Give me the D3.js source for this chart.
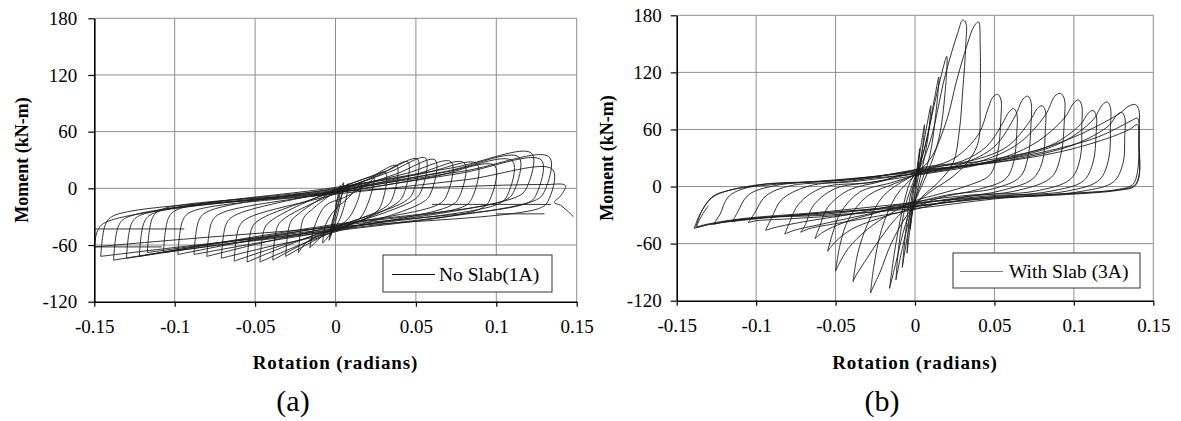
<!DOCTYPE html>
<html><head><meta charset="utf-8">
<script src="https://cdn.jsdelivr.net/npm/d3@7"></script>
<style>body{margin:0;background:#fff} svg{display:block}</style>
</head><body>
<svg id="chart" width="1181" height="421"></svg>
<script>
const rotationTicks = [-0.15, -0.1, -0.05, 0, 0.05, 0.1, 0.15];
const rotationTickLabels = ["-0.15", "-0.1", "-0.05", "0", "0.05", "0.1", "0.15"];
const momentTicks = [-120, -60, 0, 60, 120, 180];
const momentTickLabels = ["-120", "-60", "0", "60", "120", "180"];
const xTitle = "Rotation (radians)";
const yTitle = "Moment (kN-m)";
const seriesNames = ["No Slab(1A)", "With Slab (3A)"];
const captions = ["(a)", "(b)"];

// Specimen 1A (no slab): hysteresis cycles, [rotation (rad), moment (kN-m)]
const loopsNoSlab = [
  [[0,-20],[0.003,3],[0.002,-15],[-0.001,-35],[-0.003,-50]],
  [[-0.001,-30],[0.002,-8],[0.005,6],[0.003,-15],[0,-35],[-0.004,-55]],
  [[-0.002,-35],[0.002,-15],[0.006,0],[0.008,5],[0.006,-15],[0.002,-35],[-0.004,-50],[-0.008,-58]],
  [[-0.006,-38],[0,-22],[0.008,-10],[0.013,0],[0.016,6],[0.014,-12],[0.008,-32],[0,-42],[-0.008,-50],[-0.013,-58],[-0.016,-63]],
  [[-0.013,-40],[-0.006,-18],[0.005,-10],[0.015,-1],[0.021,6],[0.024,11],[0.021,-12],[0.015,-32],[0.005,-41],[-0.008,-48],[-0.018,-57],[-0.023,-68]],
  [[-0.02,-32],[-0.015,-23],[0,-4],[0.0186,8.2],[0.031,17],[0.028,-19],[0.023,-28],[0,-44],[-0.0186,-60.2],[-0.031,-72]],
  [[-0.028,-36],[-0.023,-27],[0,-2],[0.0228,13.1],[0.038,24],[0.035,-12],[0.03,-21],[0,-42],[-0.0234,-61.7],[-0.039,-76]],
  [[-0.036,-40],[-0.031,-31],[0,-5],[0.027,14.1],[0.045,28],[0.042,-8],[0.037,-17],[0,-45],[-0.0282,-64.1],[-0.047,-78]],
  [[-0.044,-42],[-0.039,-33],[0,-1],[0.0306,17.6],[0.051,31],[0.048,-5],[0.043,-14],[0,-41],[-0.033,-62.5],[-0.055,-78]],
  [[-0.052,-42],[-0.047,-33],[0,-3],[0.0336,17.3],[0.056,32],[0.053,-4],[0.048,-13],[0,-43],[-0.0378,-62.7],[-0.063,-77]],
  [[-0.06,-41],[-0.055,-32],[0,-6],[0.0372,14.9],[0.062,30],[0.059,-6],[0.054,-15],[0,-46],[-0.0426,-62.2],[-0.071,-74]],
  [[-0.068,-38],[-0.063,-29],[0,-2],[0.0432,15.4],[0.072,28],[0.069,-8],[0.064,-17],[0,-40],[-0.048,-58.6],[-0.08,-72]],
  [[-0.077,-36],[-0.072,-27],[0,-4],[0.048,14],[0.08,27],[0.077,-9],[0.072,-18],[0,-44],[-0.0528,-59.1],[-0.088,-70]],
  [[-0.085,-34],[-0.08,-25],[0,0],[0.0528,15.1],[0.088,26],[0.085,-10],[0.08,-19],[0,-39],[-0.0588,-57],[-0.098,-70]],
  [[-0.095,-34],[-0.09,-25],[0,-5],[0.0594,11.8],[0.099,24],[0.096,-12],[0.091,-21],[0,-45],[-0.0642,-58.3],[-0.107,-68]],
  [[-0.104,-32],[-0.099,-23],[0,-1],[0.066,16.4],[0.11,29],[0.107,-7],[0.102,-16],[0,-42],[-0.0702,-57.1],[-0.117,-68]],
  [[-0.114,-32],[-0.109,-23],[0,-3],[0.0684,17.9],[0.114,33],[0.111,-3],[0.106,-12],[0,-38],[-0.0732,-57.7],[-0.122,-72]],
  [[-0.119,-36],[-0.114,-27],[0,1],[0.0732,21.9],[0.122,37],[0.119,1],[0.114,-8],[0,-43],[-0.078,-61],[-0.13,-74]],
  [[-0.127,-38],[-0.122,-29],[0,-4],[0.0768,15.7],[0.128,30],[0.125,-6],[0.12,-15],[0,-40],[-0.0828,-60.9],[-0.138,-76]],
  [[-0.135,-40],[-0.13,-31],[0,-2],[0.0798,18.3],[0.133,33],[0.13,-3],[0.125,-12],[0,-44],[-0.0876,-60.2],[-0.146,-72]],
  [[-0.143,-38],[-0.138,-29],[0,-6],[0.081,9.1],[0.135,20],[0.132,-14],[0.127,-21],[0,-41],[-0.09,-53.2],[-0.15,-62]],
  [[-0.148,-45],[-0.143,-36],[0,-4],[0.08,2],[0.13,4],[0.143,3],[0.14,-8],[0.136,-15],[0.14,-18],[0.148,-30]]
];
// straight jump segments visible in the 1A record
const jumpsNoSlab = [
  [[-0.094,-43],[-0.15,-43]],
  [[-0.108,-62],[-0.15,-62]],
  [[0.06,-17],[0.134,-17]],
  [[0.1,-27],[0.13,-27]]
];

// Specimen 3A (with slab)
const loopsWithSlab = [
  [[0,0],[0.003,40],[0.002,20],[0,-5],[-0.003,-45]],
  [[-0.002,-20],[0,5],[0.003,35],[0.006,65],[0.004,30],[0.001,0],[-0.002,-30],[-0.005,-70]],
  [[-0.004,-40],[-0.001,0],[0.003,25],[0.007,60],[0.01,85],[0.008,50],[0.004,15],[0,-15],[-0.004,-45],[-0.008,-85]],
  [[-0.006,-50],[-0.003,-10],[0.002,15],[0.008,55],[0.012,90],[0.015,115],[0.013,75],[0.009,30],[0.003,0],[-0.003,-30],[-0.008,-65],[-0.012,-98]],
  [[-0.01,-60],[-0.006,-20],[0,10],[0.006,40],[0.012,85],[0.017,120],[0.02,137],[0.019,100],[0.015,50],[0.008,15],[0,-15],[-0.006,-40],[-0.012,-80],[-0.016,-107]],
  [[-0.013,-70],[-0.008,-25],[-0.003,5],[0.003,20],[0.01,50],[0.018,110],[0.022,135],[0.027,162],[0.03,175],[0.032,172],[0.032,150],[0.03,100],[0.028,60],[0.024,25],[0.015,5],[0.005,-10],[-0.005,-30],[-0.015,-60],[-0.022,-90],[-0.027,-108],[-0.028,-112]],
  [[-0.026,-85],[-0.021,-45],[-0.012,-10],[0,12],[0.01,30],[0.02,70],[0.026,110],[0.033,150],[0.037,168],[0.04,173],[0.041,150],[0.041,90],[0.04,48],[0.035,30],[0.025,12],[0.01,-5],[0,-18],[-0.01,-30],[-0.022,-55],[-0.032,-80],[-0.038,-96],[-0.039,-100]],
  [[-0.036,-70],[-0.03,-40],[-0.02,-10],[-0.005,8],[0.01,20],[0.025,30],[0.04,55],[0.046,82],[0.049,94],[0.052,97],[0.054,92],[0.054,70],[0.052,35],[0.047,12],[0.035,2],[0.015,-8],[0,-15],[-0.015,-28],[-0.03,-45],[-0.042,-65],[-0.048,-82],[-0.05,-89]],
  [[-0.047,-60],[-0.042,-35],[-0.03,-10],[-0.01,5],[0.008,18],[0.03,27],[0.045,42],[0.055,66],[0.059,78],[0.062,82],[0.064,77],[0.064,55],[0.062,25],[0.057,8],[0.04,-3],[0.015,-12],[0,-22],[-0.02,-32],[-0.04,-45],[-0.05,-58],[-0.055,-68]],
  [[-0.052,-50],[-0.047,-28],[-0.035,-6],[-0.015,4],[0.005,14],[0.03,24],[0.05,42],[0.063,74],[0.068,92],[0.071,95],[0.073,89],[0.073,65],[0.071,30],[0.066,10],[0.05,-2],[0.02,-9],[0,-17],[-0.025,-28],[-0.045,-38],[-0.058,-48],[-0.063,-55]],
  [[-0.06,-42],[-0.055,-22],[-0.042,-4],[-0.02,6],[0.005,20],[0.035,27],[0.058,42],[0.072,68],[0.077,82],[0.08,85],[0.082,80],[0.082,58],[0.08,25],[0.074,8],[0.055,-4],[0.025,-13],[0,-24],[-0.03,-33],[-0.05,-39],[-0.066,-44],[-0.072,-48]],
  [[-0.069,-40],[-0.064,-20],[-0.05,-2],[-0.025,5],[0.005,16],[0.04,26],[0.065,45],[0.082,75],[0.088,95],[0.0915,98],[0.094,92],[0.094,70],[0.092,35],[0.086,10],[0.065,-4],[0.03,-11],[0,-19],[-0.035,-31],[-0.06,-40],[-0.076,-46],[-0.082,-50]],
  [[-0.079,-38],[-0.073,-18],[-0.058,-1],[-0.03,4],[0.005,13],[0.045,25],[0.075,45],[0.094,72],[0.1,88],[0.103,91],[0.105,85],[0.105,65],[0.104,30],[0.098,8],[0.075,-5],[0.035,-9],[0,-16],[-0.04,-29],[-0.07,-37],[-0.088,-43],[-0.094,-46]],
  [[-0.09,-32],[-0.084,-14],[-0.068,0],[-0.035,7],[0.005,19],[0.05,29],[0.085,43],[0.104,65],[0.109,77],[0.112,80],[0.114,75],[0.114,55],[0.112,25],[0.106,6],[0.085,-5],[0.04,-12],[0,-21],[-0.045,-30],[-0.08,-34],[-0.1,-36],[-0.105,-38]],
  [[-0.101,-28],[-0.094,-10],[-0.078,1],[-0.04,5],[0.005,15],[0.055,28],[0.092,46],[0.112,70],[0.118,86],[0.121,89],[0.123,83],[0.123,62],[0.122,30],[0.116,7],[0.095,-5],[0.045,-10],[0,-18],[-0.05,-28],[-0.09,-32],[-0.11,-35],[-0.115,-37]],
  [[-0.112,-28],[-0.105,-9],[-0.088,1],[-0.045,7],[0.005,17],[0.06,28],[0.1,44],[0.122,64],[0.127,75],[0.13,78],[0.132,73],[0.132,52],[0.131,25],[0.125,5],[0.105,-5],[0.05,-13],[0,-23],[-0.055,-30],[-0.1,-33],[-0.12,-37],[-0.127,-40]],
  [[-0.123,-30],[-0.117,-10],[-0.1,1],[-0.05,6],[0.005,14],[0.03,21],[0.07,35],[0.1,52],[0.128,76],[0.135,85],[0.139,86],[0.141,80],[0.141,60],[0.14,15],[0.137,2],[0.128,-3],[0.1,-7],[0.05,-12],[0,-20],[-0.06,-28],[-0.1,-34],[-0.13,-40],[-0.139,-44]],
  [[-0.135,-28],[-0.128,-12],[-0.117,-4],[-0.09,2],[-0.05,7],[0,15],[0.04,24],[0.08,36],[0.115,52],[0.136,69],[0.14,72],[0.141,66],[0.141,50],[0.141,12],[0.138,1],[0.125,-4],[0.09,-8],[0.04,-12],[0,-17],[-0.06,-27],[-0.11,-34],[-0.132,-40],[-0.138,-43]],
  [[-0.134,-25],[-0.127,-10],[-0.117,-4],[-0.098,2],[-0.063,5],[-0.027,10],[0,17],[0.045,24],[0.09,36],[0.12,50],[0.135,60],[0.14,65],[0.141,40],[0.141,10],[0.138,0],[0.128,-4],[0.09,-9],[0.04,-13],[0,-21],[-0.06,-28],[-0.11,-35],[-0.13,-40],[-0.137,-42],[-0.134,-30],[-0.13,-20]]
];
const jumpsWithSlab = [];

const FONT = "'Liberation Serif','Times New Roman',Times,serif";
const svg = d3.select("#chart");

const panels = [
  { x0: 94.3, x1: 576.7, y0: 18.3, y1: 301.7, loops: loopsNoSlab, jumps: jumpsNoSlab,
    name: seriesNames[0], caption: captions[0], yPad: 11, yTitleX: 22, capX: 293,
    leg: { x: 383, y: 255, w: 169, h: 37, l1: 392, l2: 435, tx: 439 }, legStroke: "#111", legW: 1 },
  { x0: 676.7, x1: 1153.3, y0: 15.3, y1: 300.7, loops: loopsWithSlab, jumps: jumpsWithSlab,
    name: seriesNames[1], caption: captions[1], yPad: 9, yTitleX: 607, capX: 882,
    leg: { x: 953, y: 253, w: 187, h: 35, l1: 960, l2: 1003, tx: 1009 }, legStroke: "#555", legW: 0.8 }
];

panels.forEach(p => {
  const x = d3.scaleLinear().domain([-0.15, 0.15]).range([p.x0, p.x1]);
  const y = d3.scaleLinear().domain([-120, 180]).range([p.y1, p.y0]);
  const g = svg.append("g");

  // grid
  g.append("g").selectAll("line").data(rotationTicks.slice(1)).join("line")
    .attr("x1", d => x(d)).attr("x2", d => x(d)).attr("y1", p.y0).attr("y2", p.y1)
    .attr("stroke", "#8e8e8e").attr("stroke-width", 1);
  g.append("g").selectAll("line").data(momentTicks.slice(1)).join("line")
    .attr("y1", d => y(d)).attr("y2", d => y(d)).attr("x1", p.x0).attr("x2", p.x1)
    .attr("stroke", "#8e8e8e").attr("stroke-width", 1);

  // hysteresis curves
  const curve = d3.line().x(d => x(d[0])).y(d => y(d[1])).curve(d3.curveCatmullRom.alpha(0.5));
  const straight = d3.line().x(d => x(d[0])).y(d => y(d[1]));
  let prev = null;
  p.loops.forEach(loop => {
    const pts = prev ? [prev].concat(loop) : loop;
    g.append("path").attr("d", curve(pts)).attr("fill", "none")
      .attr("stroke", "#1c1c1c").attr("stroke-width", 0.9).attr("stroke-linejoin", "round");
    prev = loop[loop.length - 1];
  });
  p.jumps.forEach(seg => {
    g.append("path").attr("d", straight(seg)).attr("fill", "none")
      .attr("stroke", "#1c1c1c").attr("stroke-width", 0.9);
  });

  // axes
  const ax = g.append("g").attr("transform", `translate(0,${p.y1})`)
    .call(d3.axisBottom(x).tickValues(rotationTicks).tickFormat((d, i) => rotationTickLabels[i])
      .tickSize(5).tickSizeOuter(0).tickPadding(13));
  const ay = g.append("g").attr("transform", `translate(${p.x0},0)`)
    .call(d3.axisLeft(y).tickValues(momentTicks).tickFormat((d, i) => momentTickLabels[i])
      .tickSize(6).tickSizeOuter(0).tickPadding(p.yPad));
  [ax, ay].forEach(a => {
    a.select(".domain").attr("stroke", "#000").attr("stroke-width", 1.6);
    a.selectAll(".tick line").attr("stroke", "#000").attr("stroke-width", 1.2);
    a.selectAll(".tick text").attr("fill", "#000").style("font-family", FONT).style("font-size", "19px");
  });

  // legend
  g.append("rect").attr("x", p.leg.x).attr("y", p.leg.y).attr("width", p.leg.w).attr("height", p.leg.h)
    .attr("fill", "#fff").attr("stroke", "#333").attr("stroke-width", 1);
  g.append("line").attr("x1", p.leg.l1).attr("x2", p.leg.l2)
    .attr("y1", p.leg.y + p.leg.h / 2 + 1).attr("y2", p.leg.y + p.leg.h / 2 + 1)
    .attr("stroke", p.legStroke).attr("stroke-width", p.legW);
  g.append("text").attr("x", p.leg.tx).attr("y", p.leg.y + p.leg.h / 2 + 7)
    .style("font-family", FONT).style("font-size", "19.5px").attr("fill", "#000").text(p.name);

  // titles
  g.append("text").attr("x", (p.x0 + p.x1) / 2).attr("y", 369).attr("text-anchor", "middle")
    .style("font-family", FONT).style("font-size", "19px").style("font-weight", "bold")
    .style("letter-spacing", "0.9px").text(xTitle);
  g.append("text").attr("transform", `translate(${p.yTitleX + 6},${(p.y0 + p.y1) / 2}) rotate(-90)`)
    .attr("text-anchor", "middle")
    .style("font-family", FONT).style("font-size", "18px").style("font-weight", "bold").text(yTitle);
  g.append("text").attr("x", p.capX).attr("y", 411).attr("text-anchor", "middle")
    .style("font-family", FONT).style("font-size", "30px").text(p.caption);
});
</script>
</body></html>
